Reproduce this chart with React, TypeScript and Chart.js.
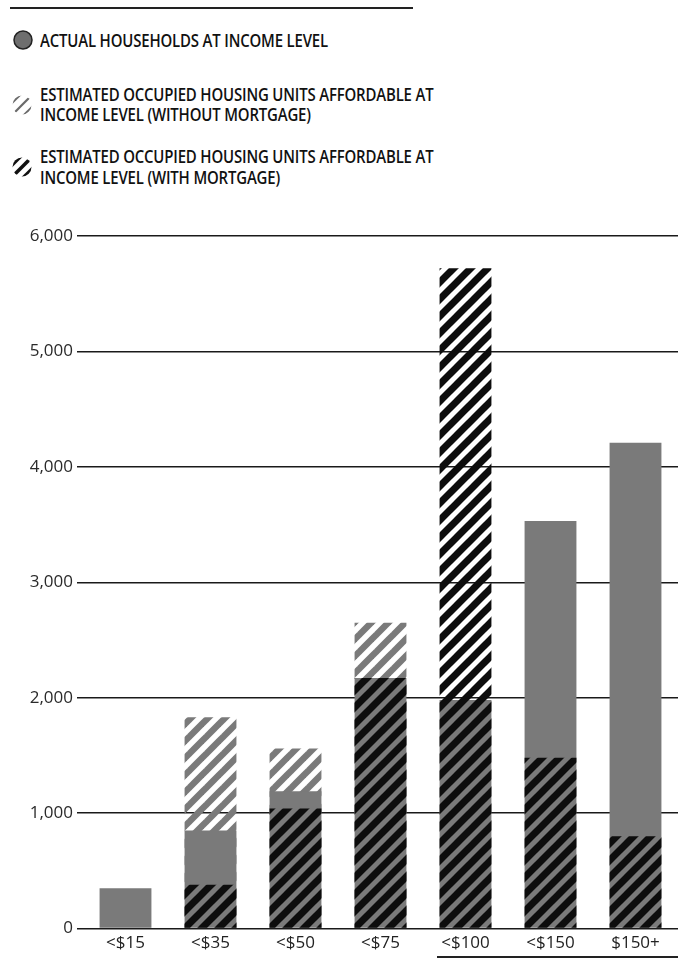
import React, { useEffect, useRef } from "react";
import { Chart, registerables } from "chart.js";

Chart.register(...registerables);

// ---- Data ----
const categories = ["<$15", "<$35", "<$50", "<$75", "<$100", "<$150", "$150+"];
const actualHouseholds = [350, 850, 1190, 2170, 1980, 3530, 4210];
const unitsWithoutMortgage = [0, 1830, 1560, 2650, 0, 0, 0];
const unitsWithMortgage = [0, 380, 1040, 2170, 5720, 1480, 800];
const yTickValues = [0, 1000, 2000, 3000, 4000, 5000, 6000];

const legendLabels = [
  ["ACTUAL HOUSEHOLDS AT INCOME LEVEL"],
  ["ESTIMATED OCCUPIED HOUSING UNITS AFFORDABLE AT", "INCOME LEVEL (WITHOUT MORTGAGE)"],
  ["ESTIMATED OCCUPIED HOUSING UNITS AFFORDABLE AT", "INCOME LEVEL (WITH MORTGAGE)"],
];

function makeHatch(color: string, width: number, size: number): CanvasPattern | string {
  const c = document.createElement("canvas");
  c.width = size;
  c.height = size;
  const ctx = c.getContext("2d");
  if (!ctx) return color;
  ctx.strokeStyle = color;
  ctx.lineWidth = width;
  ctx.lineCap = "square";
  for (const o of [-size, 0, size]) {
    ctx.beginPath();
    ctx.moveTo(o - 2, size + 2);
    ctx.lineTo(o + size + 2, -2);
    ctx.stroke();
  }
  const p = ctx.createPattern(c, "repeat");
  return p || color;
}

const FONT = "'Open Sans', 'DejaVu Sans', sans-serif";

function LegendIcon({ kind }: { kind: number }) {
  if (kind === 0) {
    return (
      <svg width="22" height="22" viewBox="0 0 22 22">
        <circle cx="11" cy="11" r="9" fill="#6e6e6e" stroke="#222" strokeWidth="1.5" />
      </svg>
    );
  }
  const color = kind === 1 ? "#6a6a6a" : "#111";
  const w = kind === 1 ? 2.2 : 3.6;
  return (
    <svg width="22" height="22" viewBox="0 0 22 22">
      <defs>
        <clipPath id={"c" + kind}>
          <circle cx="11" cy="11" r="9.5" />
        </clipPath>
      </defs>
      <g clipPath={`url(#c${kind})`} stroke={color} strokeWidth={w}>
        <line x1="-4" y1="14" x2="14" y2="-4" />
        <line x1="1" y1="21" x2="21" y2="1" />
        <line x1="8" y1="26" x2="26" y2="8" />
      </g>
    </svg>
  );
}

export default function App() {
  const canvasRef = useRef<HTMLCanvasElement | null>(null);

  useEffect(() => {
    if (!canvasRef.current) return;
    const darkHatch = makeHatch("#0d0d0d", 7, 17);
    const lightHatch = makeHatch("#7a7a7a", 6.5, 17);

    const chart = new Chart(canvasRef.current, {
      type: "bar",
      data: {
        labels: categories,
        datasets: [
          {
            label: legendLabels[2].join(" "),
            data: unitsWithMortgage,
            backgroundColor: darkHatch as any,
            borderWidth: 0,
            grouped: false,
            order: 0,
            barPercentage: 0.61,
            categoryPercentage: 1,
          },
          {
            label: legendLabels[0].join(" "),
            data: actualHouseholds,
            backgroundColor: "#7a7a7a",
            borderWidth: 0,
            grouped: false,
            order: 1,
            barPercentage: 0.61,
            categoryPercentage: 1,
          },
          {
            label: legendLabels[1].join(" "),
            data: unitsWithoutMortgage,
            backgroundColor: lightHatch as any,
            borderWidth: 0,
            grouped: false,
            order: 2,
            barPercentage: 0.61,
            categoryPercentage: 1,
          },
        ],
      },
      options: {
        animation: false,
        responsive: false,
        maintainAspectRatio: false,
        layout: { padding: { top: 41, bottom: 4, left: 0, right: 0 } },
        plugins: {
          legend: { display: false },
          tooltip: { enabled: false },
        },
        scales: {
          x: {
            grid: { display: false, drawTicks: false },
            border: { display: false },
            ticks: {
              color: "#222",
              font: { family: FONT, size: 17 },
              padding: 4,
              maxRotation: 0,
            },
          },
          y: {
            min: 0,
            max: 6000,
            z: 1,
            afterBuildTicks: (scale: any) => {
              scale.ticks = yTickValues.map((v) => ({ value: v }));
            },
            afterFit: (scale: any) => {
              scale.width = 83;
            },
            grid: {
              color: "#1a1a1a",
              lineWidth: 1.5,
              tickLength: 6,
              drawTicks: true,
            },
            border: { display: false },
            ticks: {
              color: "#2a2a2a",
              font: { family: FONT, size: 17 },
              padding: 4,
              callback: (v: any) => Number(v).toLocaleString("en-US"),
            },
          },
        },
      },
    });
    return () => chart.destroy();
  }, []);

  const textStyle: React.CSSProperties = {
    position: "absolute",
    left: 40,
    fontFamily: FONT,
    fontWeight: 600,
    fontSize: 18,
    lineHeight: "20px",
    color: "#111",
    whiteSpace: "nowrap",
    transform: "scaleX(0.83)",
    transformOrigin: "left center",
    letterSpacing: "-0.2px",
  };

  return (
    <div
      style={{
        position: "absolute",
        left: 0,
        top: 0,
        width: 678,
        height: 961,
        background: "#fff",
        overflow: "hidden",
      }}
    >
      <div style={{ position: "absolute", left: 10, top: 7, width: 403, height: 2, background: "#222" }} />
      <div style={{ position: "absolute", left: 12, top: 29 }}>
        <LegendIcon kind={0} />
      </div>
      <div style={{ ...textStyle, top: 30 }}>{legendLabels[0][0]}</div>
      <div style={{ position: "absolute", left: 11, top: 94 }}>
        <LegendIcon kind={1} />
      </div>
      <div style={{ ...textStyle, top: 84 }}>
        {legendLabels[1].map((l, i) => (
          <div key={i}>{l}</div>
        ))}
      </div>
      <div style={{ position: "absolute", left: 11, top: 156 }}>
        <LegendIcon kind={2} />
      </div>
      <div style={{ ...textStyle, top: 146, lineHeight: "21px" }}>
        {legendLabels[2].map((l, i) => (
          <div key={i}>{l}</div>
        ))}
      </div>
      <div style={{ position: "absolute", left: 0, top: 195, width: 678, height: 766 }}>
        <canvas ref={canvasRef} width={678} height={766} style={{ width: 678, height: 766 }} />
      </div>
      <div style={{ position: "absolute", left: 437, top: 956, width: 241, height: 2, background: "#222" }} />
    </div>
  );
}
